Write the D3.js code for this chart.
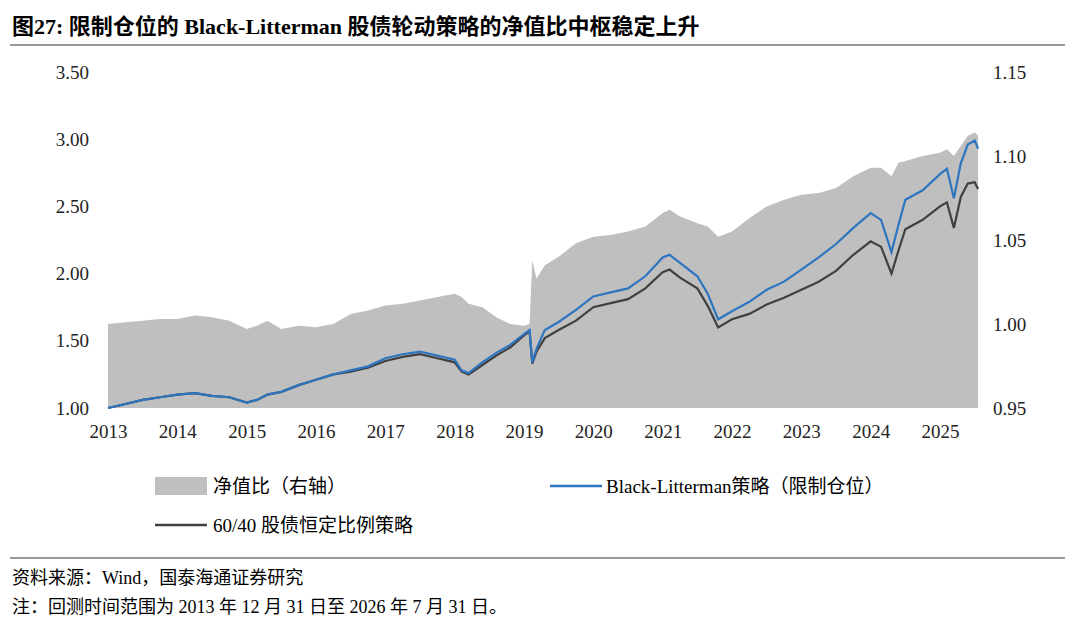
<!DOCTYPE html>
<html><head><meta charset="utf-8">
<script src="https://cdn.jsdelivr.net/npm/d3@7"></script>
<style>
body{margin:0;background:#fff;}
text{font-family:"Liberation Serif","Noto Sans CJK SC",serif;}
</style></head>
<body><svg id="c" width="1080" height="630"></svg>
<script>
// time points (decimal years)
const dates = [2013.0,2013.25,2013.5,2013.75,2014.0,2014.25,2014.5,2014.75,2015.0,2015.15,2015.3,2015.5,2015.75,
  2016.0,2016.25,2016.5,2016.75,2017.0,2017.25,2017.5,2017.75,2018.0,2018.1,2018.2,2018.4,2018.6,2018.8,2019.0,
  2019.08,2019.12,2019.18,2019.3,2019.5,2019.75,2020.0,2020.25,2020.5,2020.75,2021.0,2021.1,2021.25,2021.5,2021.65,
  2021.8,2022.0,2022.25,2022.5,2022.75,2023.0,2023.25,2023.5,2023.75,2024.0,2024.15,2024.3,2024.4,2024.5,2024.75,
  2025.0,2025.1,2025.2,2025.3,2025.4,2025.5,2025.55];
const blValues = [1.00,1.03,1.06,1.08,1.10,1.11,1.09,1.08,1.04,1.06,1.10,1.12,1.17,
  1.21,1.25,1.28,1.31,1.37,1.40,1.42,1.39,1.36,1.28,1.26,1.34,1.41,1.47,1.55,
  1.58,1.34,1.44,1.58,1.64,1.73,1.83,1.86,1.89,1.98,2.12,2.14,2.08,1.98,1.85,
  1.66,1.72,1.79,1.88,1.94,2.03,2.12,2.22,2.34,2.45,2.40,2.16,2.36,2.55,2.62,
  2.74,2.78,2.56,2.82,2.96,2.99,2.93];
const sixtyFortyValues = [1.00,1.03,1.06,1.08,1.10,1.11,1.09,1.08,1.04,1.06,1.10,1.12,1.17,
  1.21,1.25,1.27,1.30,1.35,1.38,1.40,1.37,1.34,1.27,1.25,1.32,1.39,1.45,1.54,
  1.57,1.33,1.42,1.52,1.58,1.65,1.75,1.78,1.81,1.89,2.01,2.03,1.97,1.89,1.76,
  1.60,1.66,1.70,1.77,1.82,1.88,1.94,2.02,2.14,2.24,2.20,2.00,2.17,2.33,2.40,
  2.50,2.53,2.34,2.57,2.67,2.68,2.63];
const ratioValues = [1.000,1.001,1.002,1.003,1.003,1.005,1.004,1.002,0.997,0.999,1.002,0.997,0.999,
  0.998,1.000,1.006,1.008,1.011,1.012,1.014,1.016,1.018,1.016,1.012,1.010,1.004,1.000,0.999,
  1.000,1.038,1.027,1.035,1.040,1.048,1.052,1.053,1.055,1.058,1.066,1.068,1.064,1.060,1.058,
  1.052,1.055,1.063,1.070,1.074,1.077,1.078,1.081,1.088,1.093,1.093,1.088,1.096,1.097,1.100,
  1.102,1.104,1.100,1.106,1.112,1.114,1.112];
const yearTicks = d3.range(2013,2026);
const leftTicks = [1.0,1.5,2.0,2.5,3.0,3.5];
const rightTicks = [0.95,1.0,1.05,1.1,1.15];

const svg = d3.select('#c');
const x = d3.scaleLinear().domain([2013,2025]).range([108,940]);
const yL = d3.scaleLinear().domain([1,3.5]).range([408,72]);
const yR = d3.scaleLinear().domain([0.95,1.15]).range([408,72]);

svg.append('text').attr('x',12).attr('y',34).attr('font-size',22).attr('font-weight','bold')
  .text('图27:  限制仓位的 Black-Litterman 股债轮动策略的净值比中枢稳定上升');
svg.append('line').attr('x1',10).attr('x2',1065).attr('y1',45).attr('y2',45).attr('stroke','#333').attr('stroke-width',1);

const idx = d3.range(dates.length);
svg.append('path').datum(idx)
  .attr('d', d3.area().x(i=>x(dates[i])).y0(yR(0.95)).y1(i=>yR(ratioValues[i])))
  .attr('fill','#bfbfbf');
svg.append('path').datum(idx)
  .attr('d', d3.line().x(i=>x(dates[i])).y(i=>yL(sixtyFortyValues[i])))
  .attr('fill','none').attr('stroke','#404040').attr('stroke-width',2.2);
svg.append('path').datum(idx)
  .attr('d', d3.line().x(i=>x(dates[i])).y(i=>yL(blValues[i])))
  .attr('fill','none').attr('stroke','#2e75c0').attr('stroke-width',2.2);

const axL = svg.append('g').attr('transform','translate(92,0)')
  .call(d3.axisLeft(yL).tickValues(leftTicks).tickFormat(d3.format('.2f')).tickSize(0));
const axR = svg.append('g').attr('transform','translate(990,0)')
  .call(d3.axisRight(yR).tickValues(rightTicks).tickFormat(d3.format('.2f')).tickSize(0));
const axX = svg.append('g').attr('transform','translate(0,425)')
  .call(d3.axisBottom(x).tickValues(yearTicks).tickFormat(d3.format('d')).tickSize(0));
[axL,axR,axX].forEach(a=>{a.select('.domain').remove();
  a.selectAll('text').attr('font-size',19).attr('fill','#222').style('font-family','Liberation Serif');});
axX.selectAll('text').attr('dy','0.5em');

// legend
svg.append('rect').attr('x',155).attr('y',477).attr('width',52).attr('height',18).attr('fill','#bfbfbf');
svg.append('text').attr('x',213).attr('y',493).attr('font-size',19).text('净值比（右轴）');
svg.append('line').attr('x1',550).attr('x2',602).attr('y1',486).attr('y2',486).attr('stroke','#2e75c0').attr('stroke-width',2.5);
svg.append('text').attr('x',606).attr('y',493).attr('font-size',19).text('Black-Litterman策略（限制仓位）');
svg.append('line').attr('x1',155).attr('x2',207).attr('y1',525).attr('y2',525).attr('stroke','#404040').attr('stroke-width',2.5);
svg.append('text').attr('x',213).attr('y',532).attr('font-size',19).text('60/40 股债恒定比例策略');

svg.append('line').attr('x1',10).attr('x2',1065).attr('y1',558).attr('y2',558).attr('stroke','#333').attr('stroke-width',1);
svg.append('text').attr('x',12).attr('y',584).attr('font-size',18).text('资料来源：Wind，国泰海通证券研究');
svg.append('text').attr('x',12).attr('y',613).attr('font-size',18).text('注：回测时间范围为 2013 年 12 月 31 日至 2026 年 7 月 31 日。');
</script></body></html>
